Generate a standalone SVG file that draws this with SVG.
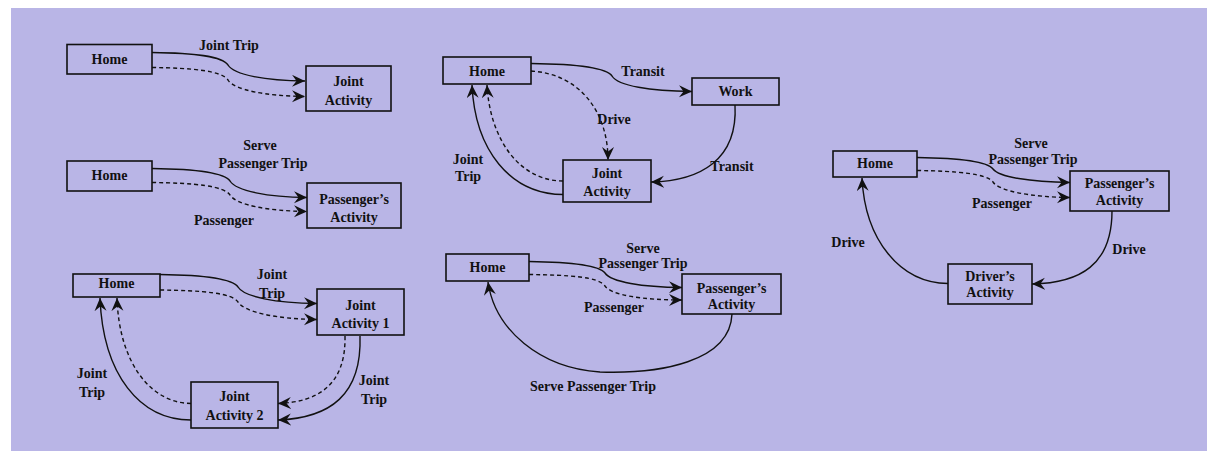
<svg xmlns="http://www.w3.org/2000/svg" width="1207" height="451" viewBox="0 0 1207 451">
<style>
.bg{fill:#b9b5e6}
.box{fill:#b9b5e6;stroke:#111;stroke-width:1.6}
.t{font-family:"Liberation Serif","Times New Roman",serif;font-weight:bold;font-size:14px;fill:#111;text-anchor:middle}
.c{fill:none;stroke:#111;stroke-width:1.4;marker-end:url(#ah)}
.d{stroke-dasharray:4 3}
</style>
<defs>
<marker id="ah" markerUnits="userSpaceOnUse" markerWidth="15" markerHeight="13" refX="13" refY="6" orient="auto">
<path d="M0,0 L13,6 L0,12 L4.5,6 z" fill="#111"/>
</marker>
</defs>
<rect class="bg" x="11" y="8" width="1196" height="443"/>
<g id="connectors">
<path class="c" d="M152,52.5 C194,53 222,56 228,65 C234,75 266,80.5 305,81"/>
<path class="c d" d="M152,67.5 C194,68 222,71 228,80 C234,90 266,96 305,96.5"/>
<path class="c" d="M152,168.5 C195,169 224,172 230,181 C236,191 268,197 307,197.5"/>
<path class="c d" d="M152,182.5 C195,183 224,186 230,195 C236,205 268,211 307,211.5"/>
<path class="c" d="M160,274.5 C203,275 232,278 238,287 C244,297 276,303 317,303.5"/>
<path class="c d" d="M160,290 C203,290.5 232,293 238,302 C244,312 276,319 317,319.5"/>
<path class="c" d="M360,336 C362,395 330,418 278,420"/>
<path class="c d" d="M345,336 C346,385 318,402 278,403.5"/>
<path class="c" d="M191,420 C140,420 103,375 100,298"/>
<path class="c d" d="M191,403.5 C150,403 119,362 117,298"/>
<path class="c" d="M531,63.5 C575,64 606,67 612,76 C618,86 650,91 692,91.5"/>
<path class="c d" d="M531,71 C580,74 608,112 608,160"/>
<path class="c" d="M735,105 C738,160 700,181 651,182"/>
<path class="c" d="M563,194.5 C510,194 475,150 472,85"/>
<path class="c d" d="M563,181 C520,181 490,140 487,85"/>
<path class="c" d="M529,261.5 C571,262 599,265 605,273 C611,282 642,287 682,287.5"/>
<path class="c d" d="M529,274.5 C571,275 599,277 605,286 C611,295 642,300 682,300"/>
<path class="c" d="M732,314 C730,362 660,374 600,372 C540,368 495,330 488,282"/>
<path class="c" d="M917,157.5 C959,158 987,161 993,169 C999,177 1030,182 1070,182.5"/>
<path class="c d" d="M917,170.5 C959,171 987,174 993,182 C999,191 1030,197 1070,197.5"/>
<path class="c" d="M1112,211 C1112,265 1080,283 1032,284"/>
<path class="c" d="M948,283.5 C900,283 865,240 862,178"/>
</g>
<g id="labels">
<text class="t" x="229" y="49.5">Joint Trip</text>
<text class="t" x="260" y="150">Serve</text>
<text class="t" x="263" y="168">Passenger Trip</text>
<text class="t" x="224" y="225">Passenger</text>
<text class="t" x="272" y="279">Joint</text>
<text class="t" x="272" y="298">Trip</text>
<text class="t" x="374" y="384.5">Joint</text>
<text class="t" x="374" y="404">Trip</text>
<text class="t" x="92" y="378">Joint</text>
<text class="t" x="92" y="396.5">Trip</text>
<text class="t" x="643" y="75.5">Transit</text>
<text class="t" x="614" y="123.5">Drive</text>
<text class="t" x="732" y="171">Transit</text>
<text class="t" x="468" y="163.5">Joint</text>
<text class="t" x="468" y="181">Trip</text>
<text class="t" x="643" y="253">Serve</text>
<text class="t" x="643" y="268">Passenger Trip</text>
<text class="t" x="614" y="312">Passenger</text>
<text class="t" x="593" y="391">Serve Passenger Trip</text>
<text class="t" x="1031" y="148">Serve</text>
<text class="t" x="1033" y="163.5">Passenger Trip</text>
<text class="t" x="1002" y="208">Passenger</text>
<text class="t" x="1129" y="254">Drive</text>
<text class="t" x="848" y="247">Drive</text>
</g>
<g id="home1"><rect class="box" x="67" y="44.5" width="85" height="29.5"/><text class="t" x="109.5" y="64">Home</text></g>
<g id="joint1"><rect class="box" x="306" y="66" width="85" height="45"/><text class="t" x="348.5" y="86">Joint</text><text class="t" x="348.5" y="104.5">Activity</text></g>
<g id="home2"><rect class="box" x="67" y="161" width="85" height="30"/><text class="t" x="109.5" y="180">Home</text></g>
<g id="pass2"><rect class="box" x="307" y="183" width="94" height="45"/><text class="t" x="354" y="204">Passenger’s</text><text class="t" x="354" y="221.5">Activity</text></g>
<g id="home3"><rect class="box" x="73" y="274" width="87" height="23"/><text class="t" x="116.5" y="287.5">Home</text></g>
<g id="joint3a"><rect class="box" x="317" y="289" width="87" height="46"/><text class="t" x="360.5" y="309.5">Joint</text><text class="t" x="360.5" y="328">Activity 1</text></g>
<g id="joint3b"><rect class="box" x="191" y="382" width="87" height="46"/><text class="t" x="234.5" y="400.5">Joint</text><text class="t" x="234.5" y="419.5">Activity 2</text></g>
<g id="home4"><rect class="box" x="443" y="57" width="88" height="27"/><text class="t" x="487" y="75.5">Home</text></g>
<g id="work4"><rect class="box" x="692" y="78" width="87" height="27"/><text class="t" x="735.5" y="96">Work</text></g>
<g id="joint4"><rect class="box" x="563" y="160" width="88" height="42"/><text class="t" x="607" y="178">Joint</text><text class="t" x="607" y="195.5">Activity</text></g>
<g id="home5"><rect class="box" x="446" y="254" width="83" height="27"/><text class="t" x="487.5" y="272">Home</text></g>
<g id="pass5"><rect class="box" x="682" y="274" width="99" height="40"/><text class="t" x="731.5" y="293">Passenger’s</text><text class="t" x="731.5" y="308.5">Activity</text></g>
<g id="home6"><rect class="box" x="833" y="151" width="84" height="26"/><text class="t" x="875" y="168">Home</text></g>
<g id="pass6"><rect class="box" x="1070" y="171" width="99" height="40"/><text class="t" x="1119.5" y="188">Passenger’s</text><text class="t" x="1119.5" y="204.5">Activity</text></g>
<g id="driver6"><rect class="box" x="948" y="264" width="84" height="40"/><text class="t" x="990" y="281">Driver’s</text><text class="t" x="990" y="297">Activity</text></g>
</svg>
